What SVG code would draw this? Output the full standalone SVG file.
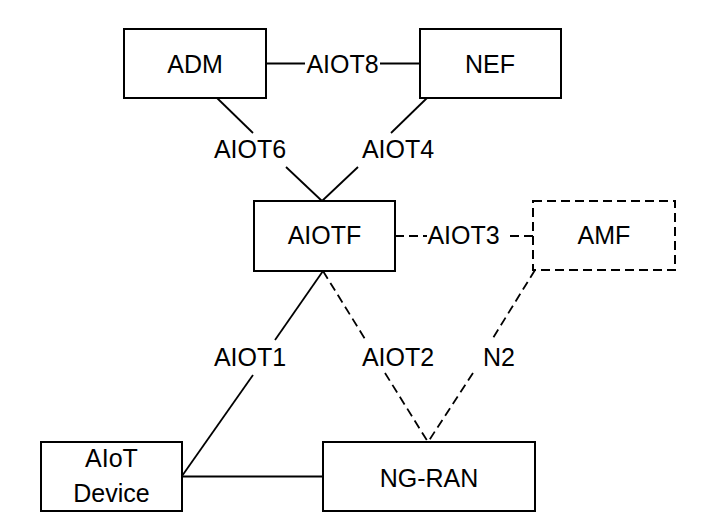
<svg xmlns="http://www.w3.org/2000/svg" width="724" height="532" viewBox="0 0 724 532">
<style>
.box{fill:#fff;stroke:#000;stroke-width:2}
.dash{stroke-dasharray:9 5}
.ln{fill:none;stroke:#000;stroke-width:1.8}
text{font-family:"Liberation Sans",Arial,sans-serif;font-size:25px;fill:#000;text-anchor:middle}
</style>
<rect width="724" height="532" fill="#fff"/>
<g id="connectors">
<line class="ln" x1="266" y1="63.5" x2="305" y2="63.5"/>
<line class="ln" x1="380" y1="63.5" x2="420" y2="63.5"/>
<text x="342.5" y="73">AIOT8</text>
<line class="ln" x1="217" y1="98" x2="253" y2="133"/>
<line class="ln" x1="286" y1="167" x2="322" y2="201"/>
<text x="250" y="158">AIOT6</text>
<line class="ln" x1="427" y1="98" x2="391" y2="133"/>
<line class="ln" x1="358" y1="167" x2="322" y2="201"/>
<text x="398" y="158">AIOT4</text>
<line class="ln dash" x1="395" y1="236" x2="427" y2="236"/>
<line class="ln dash" x1="533" y1="236" x2="505" y2="236"/>
<text x="463.5" y="244">AIOT3</text>
<line class="ln" x1="323" y1="271" x2="275" y2="340"/>
<line class="ln" x1="253" y1="375" x2="182" y2="476"/>
<text x="250" y="366">AIOT1</text>
<line class="ln dash" x1="323" y1="271" x2="365" y2="339"/>
<line class="ln dash" x1="385" y1="373" x2="428" y2="442"/>
<text x="398" y="366">AIOT2</text>
<line class="ln dash" x1="535" y1="270" x2="493" y2="338"/>
<line class="ln dash" x1="473" y1="373" x2="428" y2="442"/>
<text x="499" y="366">N2</text>
<line class="ln" x1="182" y1="476.5" x2="323" y2="476.5"/>
</g>
<g id="ADM"><rect class="box" x="124" y="29" width="142" height="69"/><text x="195" y="73">ADM</text></g>
<g id="NEF"><rect class="box" x="420" y="29" width="141" height="69"/><text x="490" y="73">NEF</text></g>
<g id="AIOTF"><rect class="box" x="254" y="201" width="141" height="70"/><text x="324.5" y="244">AIOTF</text></g>
<g id="AMF"><rect class="box dash" x="533" y="201" width="142" height="69"/><text x="604" y="244">AMF</text></g>
<g id="AIoTDevice"><rect class="box" x="41" y="442" width="141" height="69"/><text x="111.5" y="467">AIoT</text><text x="111.5" y="502">Device</text></g>
<g id="NGRAN"><rect class="box" x="323" y="442" width="212" height="69"/><text x="429" y="487">NG-RAN</text></g>
</svg>
